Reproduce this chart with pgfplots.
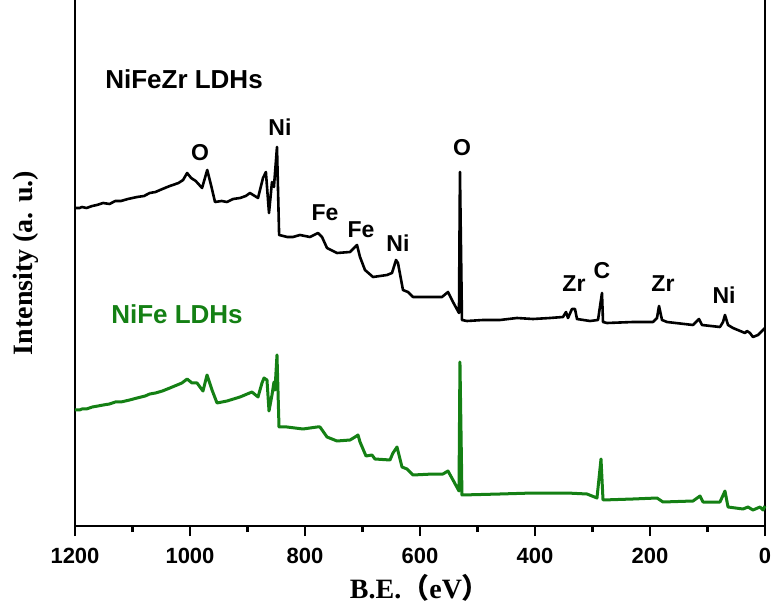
\documentclass[border=0pt]{standalone}
\usepackage{fontspec}
\setmainfont{Liberation Serif}
\newfontfamily\arial{Liberation Sans}
\newfontfamily\cjk{Noto Sans CJK SC}
\usepackage{pgfplots}
\pgfplotsset{compat=1.18}
\definecolor{nfgreen}{RGB}{20,128,20}
\begin{document}
\begin{tikzpicture}
\begin{axis}[
  name=ax,
  scale only axis,
  width=690pt, height=526pt,
  x dir=reverse,
  xmin=0, xmax=1200, ymin=0, ymax=526,
  axis x line=bottom, axis y line=box,
  axis line style={-, line width=2.4pt},
  ytick=\empty,
  xtick={0,200,...,1200},
  minor xtick={100,300,...,1100},
  tick align=outside,
  major tick length=10pt, minor tick length=6pt,
  every tick/.style={line width=2.2pt, black},
  tick label style={font=\arial\bfseries\fontsize{22}{26}\selectfont},
  /pgf/number format/assume math mode=true,
  xticklabel style={/pgf/number format/1000 sep={}, yshift=-9pt},
  xlabel={\textbf{B.E.{\cjk（}eV{\cjk）}}},
  xlabel style={font=\fontsize{28}{32}\selectfont, yshift=-7pt, inner sep=0pt},
  ylabel={\textbf{Intensity (a. u.)}},
  ylabel style={font=\fontsize{28}{32}\selectfont, yshift=23pt},
  clip=false,
]
\addplot[black, line width=2.6pt, line join=round] coordinates {
(1200,318) (1192,318) (1188,319) (1180,318) (1170,320) (1162,321) (1151,323) (1140,322) (1130,325) (1120,325) (1108,327) (1092,329) (1080,330) (1070,333) (1060,334) (1048,337) (1035,340) (1020,343) (1012,346) (1005,353)
(998,348) (990,345) (979,338) (970,356) (963,340) (956.5,324) (945,325) (935.6,324) (925,327) (913,328) (903,330) (895.7,333)
(881.7,328) (873,348) (868,354) (862.6,313) (857.4,344) (854,339) (848.7,379) (845,291) (831,289) (821,289)
(808.7,291) (791.3,289) (777.4,293) (770.4,289) (761.7,278) (744.3,273) (721.7,274) (709.6,281) (704.3,269)
(695.7,256) (681.7,249) (657.4,251) (648.7,253) (641.7,266) (638.3,263) (629.6,236) (620.9,234) (612.2,229)
(587.8,229) (561.7,229) (551.3,234) (542.6,224) (532.2,213) (530.5,354) (527,206) (518.3,205) (490.4,206)
(460.9,206) (431.3,208) (403.5,207) (374,208) (351.3,209) (346.1,214) (342.6,208) (335.7,217) (330.4,217)
(327,207) (304.3,205) (290.4,206) (283.5,233) (281.7,204) (274.8,203) (229.6,204) (194.8,204) (187.8,208)
(184.3,220) (179.1,206) (170.4,204) (125.2,201) (114.8,207) (109.6,201) (78.3,199) (73,204) (69.6,211)
(64.3,201) (55.7,198) (34.8,193) (31.3,195) (26.1,193) (20.9,189) (12.2,191) (3.5,196) (0,198)
};
\addplot[nfgreen, line width=3pt, line join=round] coordinates {
(1200,116) (1192,116) (1188,117) (1180,117) (1170,119) (1160,120) (1151,121) (1140,122) (1130,124) (1120,124) (1105,126) (1092,128) (1078,130) (1070,132) (1060,133) (1048,135) (1035,138) (1014,143) (1005,147)
(996.5,143) (987.8,143) (977.4,135) (970.4,151) (961.7,136) (953,123) (935.6,125) (913,129) (892.2,134)
(881.7,129) (874.8,143) (871.3,148) (866.1,146) (862.6,115) (857.4,131) (853.9,144) (852.2,136) (848.7,171)
(845.2,99) (831.3,99) (803.5,97) (779.1,99) (773.9,99) (761.7,89) (744.3,85) (721.7,86) (713,89) (707.8,91)
(704.3,84) (693.9,70) (683.5,71) (678.3,67) (652.2,66) (647,73) (640,79) (631.3,59) (622.6,57) (612.2,51)
(577.4,52) (560,52) (551.3,55) (542.6,46) (532.2,35) (530.5,164) (527,31) (460.9,32) (403.5,33) (344.3,33)
(309.6,32) (292.2,28) (285.2,67) (281.7,26) (229.6,27) (187.8,28) (177.4,24) (125.2,25) (113,30) (107.8,24)
(78.3,24) (69.6,35) (64.3,19) (38.3,17) (29.6,19) (20.9,16) (8.7,19) (3.5,16) (0,20)
};
\begin{scope}[every node/.style={font=\arial\bfseries\fontsize{23}{27}\selectfont}]
\node at (axis cs:982.6,373) {O};
\node at (axis cs:843.5,399) {Ni};
\node at (axis cs:765.2,313) {Fe};
\node at (axis cs:702.6,296) {Fe};
\node at (axis cs:638.3,283) {Ni};
\node at (axis cs:527,378) {O};
\node at (axis cs:332.2,242) {Zr};
\node at (axis cs:283.5,255) {C};
\node at (axis cs:177.4,242) {Zr};
\node at (axis cs:71.3,231) {Ni};
\end{scope}
\node[font=\arial\bfseries\fontsize{26}{30}\selectfont] at (axis cs:1010.4,447) {NiFeZr LDHs};
\node[font=\arial\bfseries\fontsize{26}{30}\selectfont, text=nfgreen] at (axis cs:1022.6,212) {NiFe LDHs};
\end{axis}
\pgfresetboundingbox
\path (ax.south west) ++(-75pt,-87pt) coordinate (bl);
\path (ax.north east) ++(6pt,0pt) coordinate (tr);
\path (bl) rectangle (tr);
\end{tikzpicture}
\end{document}
